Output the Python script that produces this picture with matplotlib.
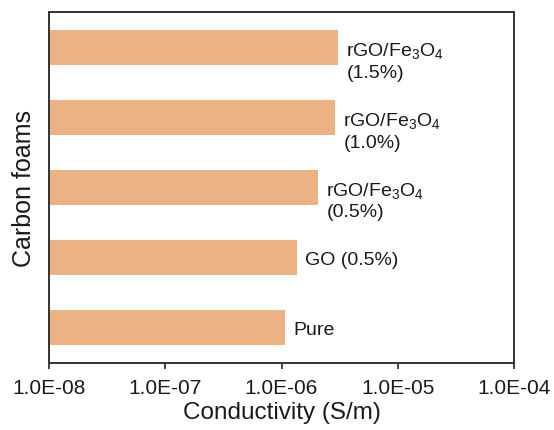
import matplotlib
matplotlib.use("Agg")
import matplotlib.pyplot as plt
from matplotlib.ticker import FixedLocator, NullLocator

plt.rcParams['font.family'] = ['Liberation Sans', 'DejaVu Sans']
plt.rcParams['mathtext.fontset'] = 'custom'
plt.rcParams['mathtext.rm'] = 'Liberation Sans'
plt.rcParams['mathtext.it'] = 'Liberation Sans'
plt.rcParams['mathtext.default'] = 'regular'

# data (bottom to top)
categories = ["Pure", "GO (0.5%)", "rGO/Fe$_3$O$_4$\n(0.5%)",
              "rGO/Fe$_3$O$_4$\n(1.0%)", "rGO/Fe$_3$O$_4$\n(1.5%)"]
conductivity = [1.07e-6, 1.36e-6, 2.06e-6, 2.89e-6, 3.06e-6]
xticks = [1e-8, 1e-7, 1e-6, 1e-5, 1e-4]
xtick_labels = ["1.0E-08", "1.0E-07", "1.0E-06", "1.0E-05", "1.0E-04"]

fig = plt.figure(figsize=(5.54, 4.31), dpi=100)
ax = fig.add_axes([49/554, 1-364/431, (514-49)/554, (364-13)/431])

base = 1e-8
ypos = list(range(len(categories)))
ax.barh(ypos, [v - base for v in conductivity], left=base, height=0.5,
        color='#ECB283', edgecolor='none')

ax.set_xscale('log')
ax.set_xlim(1e-8, 1e-4)
ax.set_ylim(-0.51, 4.51)
ax.xaxis.set_major_locator(FixedLocator(xticks))
ax.xaxis.set_minor_locator(NullLocator())
ax.set_xticklabels(xtick_labels)
ax.set_yticks([])

for y, v, lab in zip(ypos, conductivity, categories):
    two = "\n" in lab
    ax.annotate(lab, xy=(v, y), xytext=(6, -9 if two else -1.5),
                textcoords='offset points', ha='left', va='center',
                fontsize=14, color='#1a1a1a', linespacing=1.3)

for s in ax.spines.values():
    s.set_linewidth(1.4)
    s.set_color('#333333')

ax.tick_params(axis='x', direction='out', length=4.5, width=1.3,
               labelsize=15, pad=6, colors='#333333', labelcolor='#1a1a1a')

ax.set_xlabel("Conductivity (S/m)", fontsize=17.5, color='#1a1a1a', labelpad=3)
ax.set_ylabel("Carbon foams", fontsize=18, color='#1a1a1a', labelpad=9)

fig.savefig("out.png", dpi=100)
